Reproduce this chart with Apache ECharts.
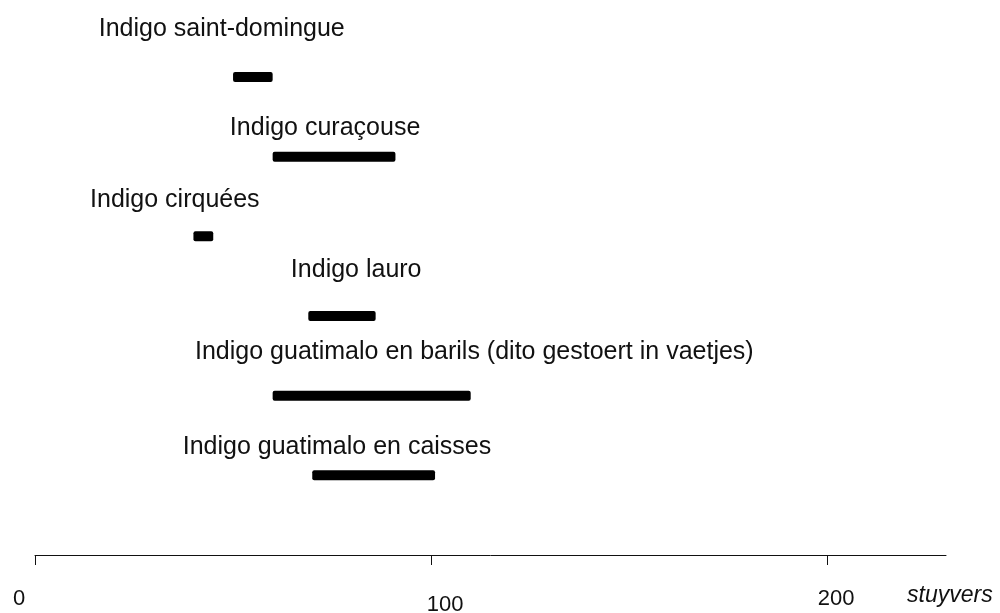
<!DOCTYPE html>
<html>
<head>
<meta charset="utf-8">
<script src="https://cdn.jsdelivr.net/npm/echarts@6/dist/echarts.min.js"></script>
<style>
  html, body { margin: 0; padding: 0; background: #fff; }
  #chart { width: 1000px; height: 613px; }
</style>
</head>
<body>
<div id="chart"></div>
<script>
// Indigo sorts and their price ranges (stuyvers)
const sorts = [
  'Indigo saint-domingue',
  'Indigo curaçouse',
  'Indigo cirquées',
  'Indigo lauro',
  'Indigo guatimalo en barils (dito gestoert in vaetjes)',
  'Indigo guatimalo en caisses'
];
const priceLow  = [50, 60, 40, 69, 60, 70];
const priceHigh = [60, 91, 45, 86, 110, 101];
const tickValues = [0, 100, 200];
const unitName = 'stuyvers';

// where each sort's caption sits, in axis units [price, row]
const captionAnchor = [
  [16.1, -0.60],
  [49.2, 0.64],
  [13.9, 1.55],
  [64.6, 2.42],
  [40.4, 3.45],
  [37.3, 4.64]
];

const rangeData = sorts.map((s, i) => [priceLow[i], priceHigh[i], i]);
const captionData = sorts.map((s, i) => [captionAnchor[i][0], captionAnchor[i][1], s]);

// small per-label nudges for the tick labels
const tickLabelStyle = {
  t0:   { padding: [0, 32, 0, 0] },
  t100: { padding: [12, 0, 0, 28] },
  t200: { padding: [0, 0, 0, 18] }
};

const FONT = 'Liberation Sans, Arial, sans-serif';

const chart = echarts.init(document.getElementById('chart'), null, { renderer: 'canvas' });

chart.setOption({
  backgroundColor: '#ffffff',
  animation: false,
  grid: { left: 35, right: 54, top: 37.2, bottom: 58, containLabel: false, outerBoundsMode: 'none' },
  xAxis: {
    type: 'value',
    position: 'bottom',
    min: 0,
    max: 230,
    interval: 100,
    splitLine: { show: false },
    axisLine: { show: true, onZero: false, lineStyle: { color: '#111', width: 1 } },
    axisTick: { show: true, length: 10, customValues: tickValues, lineStyle: { color: '#111', width: 1 } },
    axisLabel: {
      customValues: tickValues,
      margin: 32,
      fontFamily: FONT,
      fontSize: 22,
      color: '#111',
      formatter: v => '{t' + v + '|' + v + '}',
      rich: Object.fromEntries(Object.entries(tickLabelStyle).map(([k, s]) => [k, Object.assign({
        fontFamily: FONT, fontSize: 22, color: '#111', lineHeight: 23
      }, s)]))
    },
    name: '{u|' + unitName + '}',
    nameLocation: 'end',
    nameGap: -39,
    nameTextStyle: {
      align: 'left',
      verticalAlign: 'top',
      rich: {
        u: {
          fontFamily: FONT,
          fontStyle: 'italic',
          fontSize: 23,
          color: '#111',
          lineHeight: 24,
          padding: [57, 0, 0, 0]
        }
      }
    }
  },
  yAxis: {
    type: 'value',
    inverse: true,
    min: -0.5,
    max: 6,
    show: false
  },
  series: [
    {
      type: 'custom',
      name: 'range',
      data: rangeData,
      encode: { x: [0, 1], y: 2 },
      clip: false,
      renderItem: (params, api) => {
        const a = api.coord([api.value(0), api.value(2)]);
        const b = api.coord([api.value(1), api.value(2)]);
        const h = 10;
        return {
          type: 'rect',
          shape: { x: a[0], y: a[1] - h / 2, width: b[0] - a[0], height: h, r: 2 },
          style: { fill: '#000' }
        };
      }
    },
    {
      type: 'custom',
      name: 'caption',
      data: captionData,
      encode: { x: 0, y: 1 },
      clip: false,
      renderItem: (params, api) => {
        const p = api.coord([api.value(0), api.value(1)]);
        return {
          type: 'text',
          x: p[0],
          y: p[1],
          style: {
            text: sorts[params.dataIndex],
            fill: '#111',
            font: '25px "Liberation Sans", Arial, sans-serif',
            textAlign: 'left',
            textVerticalAlign: 'middle'
          }
        };
      }
    }
  ]
});
</script>
</body>
</html>
